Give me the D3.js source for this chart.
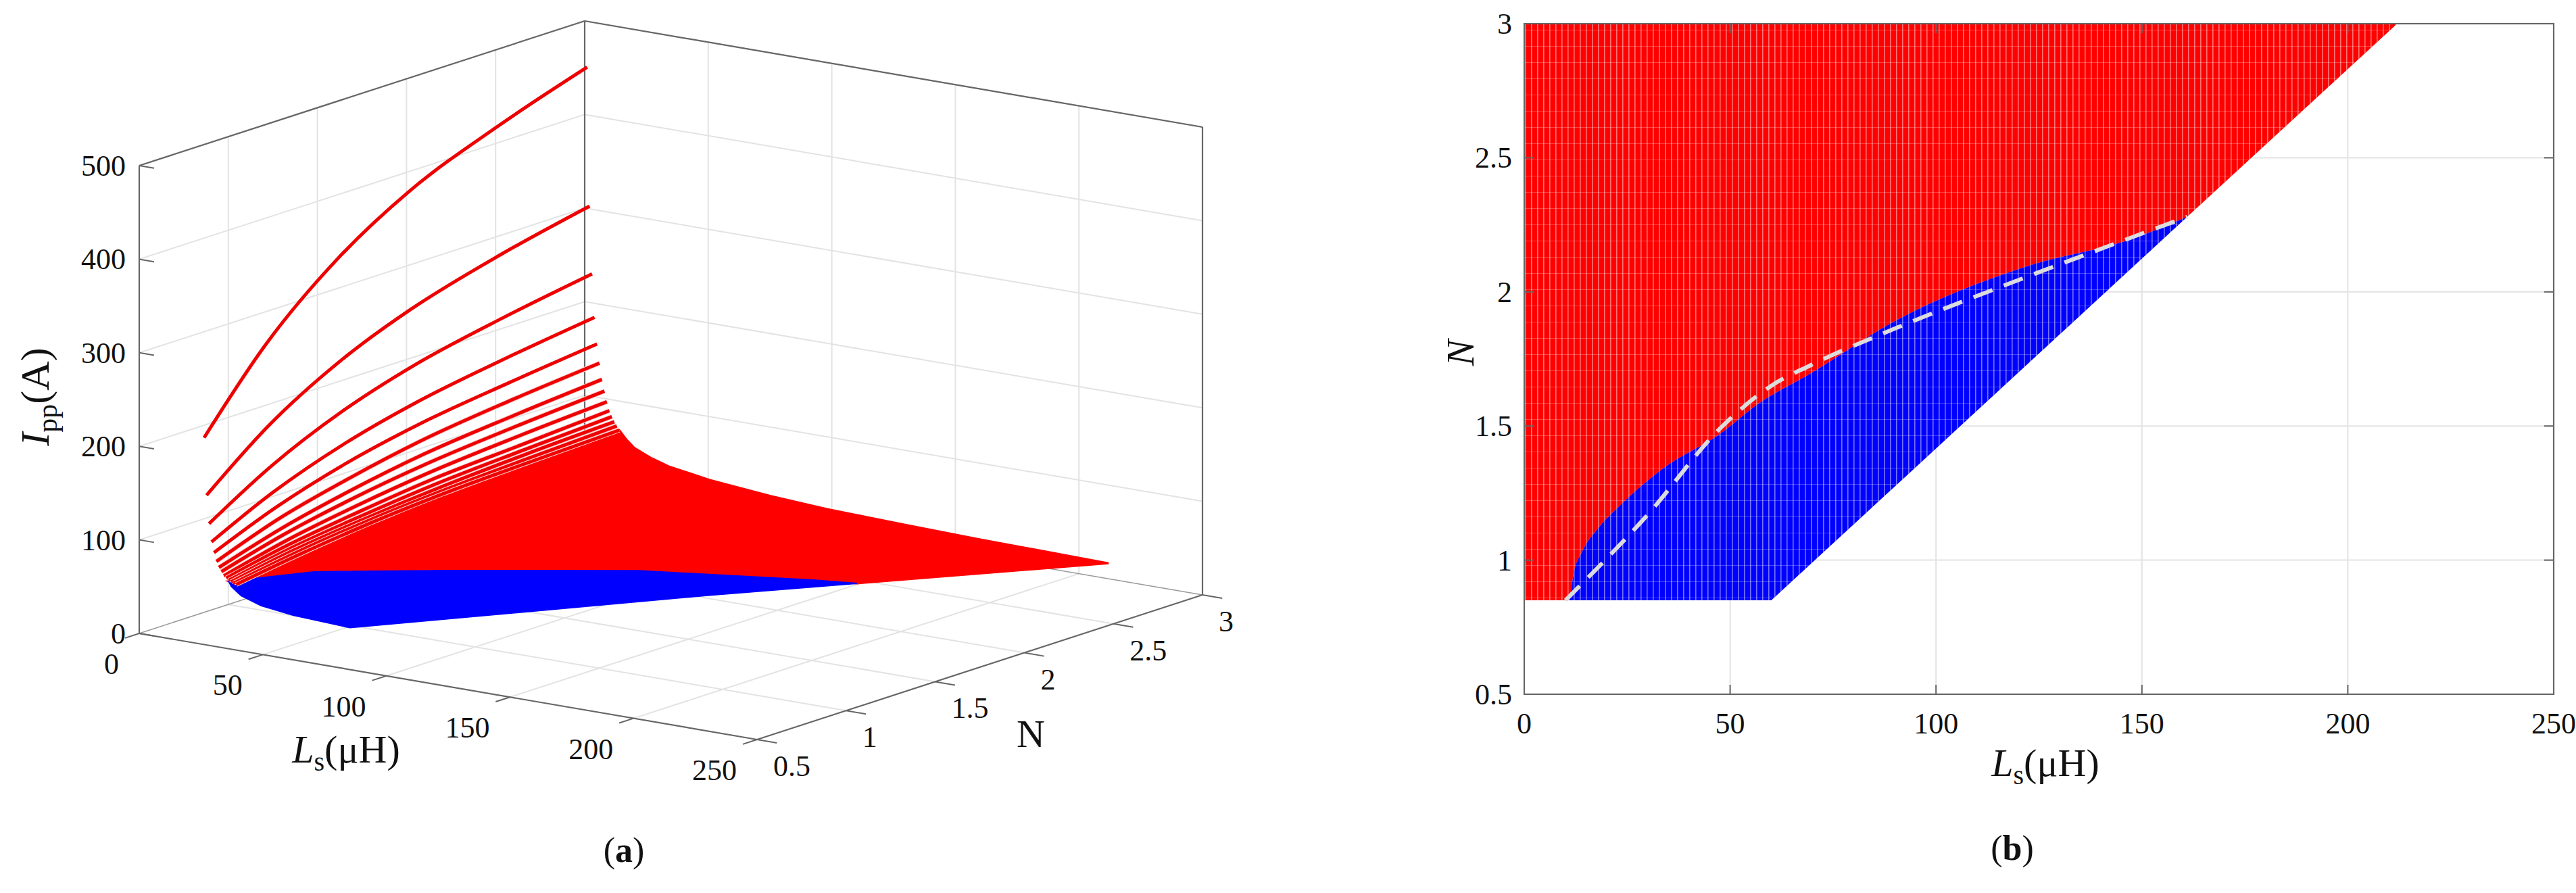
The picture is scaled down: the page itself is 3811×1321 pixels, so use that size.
<!DOCTYPE html>
<html><head><meta charset="utf-8">
<script src="https://cdn.jsdelivr.net/npm/d3@7"></script>
<style>body{margin:0;background:#fff}text{font-family:"Liberation Serif","DejaVu Serif",serif;fill:#111}</style>
</head><body><svg id="c" width="3811" height="1321"></svg>
<script>
// ---------- DATA ----------
const lsTicks=[0,50,100,150,200,250];
const nTicks3d=[0.5,1,1.5,2,2.5,3];
const iTicks=[0,100,200,300,400,500];
const nTicks2d=[0.5,1,1.5,2,2.5,3];
// red constant-Ls curves: Ls value and Ipp at lineN
const lineN=[0.85,1.2,1.6,2.0,2.5,3.0];
const lineLs=[1,2,3,4,5,6,7,8,9,10,11,12,13,14];
const lineI=[
 [188,267,333,380,419,451],
 [127,180,224,255,282,303],
 [97,137,171,195,215,231],
 [78,110,137,156,172,185],
 [67,94,117,133,146,157],
 [58,82,101,116,128,137],
 [52,72,89,102,112,120],
 [48,66,81,92,101,108],
 [44,60,73,83,91,97],
 [42,56,67,76,82,88],
 [40,53,63,71,77,82],
 [39,51,60,67,73,77],
 [38,49,58,64,69,73],
 [37,47,56,62,66,69]];
// back edge (N=3) of surface: [Ls, Ipp]
const backEdge=[[14,69],[17,60],[20,53],[27,45],[34,39.4],[50.6,32.4],[75,26.5],[98,22.8],[130,20.3],[159,18.6],[212,16.6]];
// red/blue boundary on surface: [Ls,N,Ipp]
const rbBoundary=[[11,0.85,39],[20,1.2,31.6],[30,1.35,27.5],[50,1.55,25],[100,1.92,24.5],[150,2.2,20],[161.6,2.287,16.3]];
// outer boundary of valid region (blue part): [Ls,N,Ipp]
const blueOuter=[[161.6,2.287,16.3],[132,1.87,16],[60,0.85,11.7],[37,0.85,14.7],[24,0.85,19],[16,0.85,26],[12,0.85,34],[11,0.85,39]];
// panel b
const bBoundary=[[60,0.85],[212,3]];
const bBlueTop=[[11,0.85],[12,0.95],[14,1.03],[18,1.12],[23,1.2],[34,1.345],[47.5,1.47],[56.6,1.58],[70,1.7],[89.5,1.887],[121,2.09],[149,2.205],[161,2.28]];
const bDashed=[[10,0.85],[30,1.17],[47.5,1.49],[60,1.65],[70,1.73],[89.5,1.86],[121,2.05],[140,2.16],[161,2.28]];
const bNmin=0.85, bNmax=3;

// ---------- PANEL A ----------
const svg=d3.select("#c");
const O=[206,937];
const pL=d3.scaleLinear([0,250],[0,1]), pN=d3.scaleLinear([0.5,3],[0,1]), pI=d3.scaleLinear([0,500],[0,1]);
const vL=[914,157], vN=[659,-214], vI=[0,-692];
function P(L,N,I){const a=pL(L),b=pN(N),c=pI(I);return [O[0]+a*vL[0]+b*vN[0]+c*vI[0], O[1]+a*vL[1]+b*vN[1]+c*vI[1]];}
const gA=svg.append("g");
function seg(g,p,q,st,w){g.append("line").attr("x1",p[0]).attr("y1",p[1]).attr("x2",q[0]).attr("y2",q[1]).attr("stroke",st).attr("stroke-width",w);}
const gc="#e3e3e3";
iTicks.slice(1).forEach(I=>{seg(gA,P(0,0.5,I),P(0,3,I),gc,2);seg(gA,P(0,3,I),P(250,3,I),gc,2);});
nTicks3d.slice(1,-1).forEach(N=>{seg(gA,P(0,N,0),P(0,N,500),gc,2);seg(gA,P(0,N,0),P(250,N,0),gc,2);});
lsTicks.slice(1,-1).forEach(L=>{seg(gA,P(L,3,0),P(L,3,500),gc,2);seg(gA,P(L,0.5,0),P(L,3,0),gc,2);});
seg(gA,P(0,0.5,0),P(0,3,0),"#999",1.5);seg(gA,P(0,3,0),P(250,3,0),"#999",1.5);
const bc="#666";
[[[0,.5,0],[0,.5,500]],[[0,.5,500],[0,3,500]],[[0,3,500],[250,3,500]],[[0,3,0],[0,3,500]],[[250,3,0],[250,3,500]],[[0,.5,0],[250,.5,0]],[[250,.5,0],[250,3,0]]]
 .forEach(([a,b])=>seg(gA,P(...a),P(...b),bc,2.2));
lsTicks.forEach(L=>{const p=P(L,0.5,0),q=P(L,0.42,0);seg(gA,p,q,bc,2);
 gA.append("text").attr("x",p[0]-30).attr("y",p[1]+60).attr("text-anchor","end").attr("font-size",44).text(L);});
nTicks3d.forEach(N=>{const p=P(250,N,0),q=P(258,N,0);seg(gA,p,q,bc,2);
 gA.append("text").attr("x",p[0]+24).attr("y",p[1]+54).attr("font-size",44).text(N);});
iTicks.forEach(I=>{const p=P(0,0.5,I),q=P(6,0.5,I);seg(gA,p,q,bc,2);
 gA.append("text").attr("x",p[0]-20).attr("y",p[1]+15).attr("text-anchor","end").attr("font-size",44).text(I);});
// surface
const line=d3.line();
const cl=d3.line().curve(d3.curveMonotoneX);
const last=lineLs.length-1;
const redPoly=[];
lineN.forEach((n,j)=>redPoly.push(P(lineLs[last],n,lineI[last][j])));
backEdge.slice(1).forEach(([L,I])=>redPoly.push(P(L,3,I)));
rbBoundary.slice().reverse().forEach(d=>redPoly.push(P(...d)));
gA.append("path").attr("d",line(redPoly)+"Z").attr("fill","#ff0000").attr("stroke","#ff0000").attr("stroke-width",3);
const bluePoly=rbBoundary.map(d=>P(...d)).concat(blueOuter.map(d=>P(...d)));
gA.append("path").attr("d",line(bluePoly)+"Z").attr("fill","#0000ff").attr("stroke","#0000ff").attr("stroke-width",2);
lineLs.forEach((L,k)=>{
 const d=cl(lineN.map((n,j)=>P(L,n,lineI[k][j])));
 if(k>=5) gA.append("path").attr("d",d).attr("fill","none").attr("stroke","#ffd0d0").attr("stroke-width",7);
 gA.append("path").attr("d",d).attr("fill","none").attr("stroke","#ee0000").attr("stroke-width",5);});
gA.append("text").attr("transform","translate(72,587) rotate(-90)").attr("text-anchor","middle").attr("font-size",60)
 .html('<tspan font-style="italic">I</tspan><tspan font-size="42" dy="12">pp</tspan><tspan dy="-12">(A)</tspan>');
gA.append("text").attr("x",512).attr("y",1128).attr("text-anchor","middle").attr("font-size",58)
 .html('<tspan font-style="italic">L</tspan><tspan font-size="40" dy="12">s</tspan><tspan dy="-12">(μH)</tspan>');
gA.append("text").attr("x",1525).attr("y",1105).attr("text-anchor","middle").attr("font-size",58).text("N");
gA.append("text").attr("x",923).attr("y",1275).attr("text-anchor","middle").attr("font-size",52).html('(<tspan font-weight="bold">a</tspan>)');

// ---------- PANEL B ----------
const x=d3.scaleLinear([0,250],[2255,3778]);
const y=d3.scaleLinear([0.5,3],[1027,35]);
const gB=svg.append("g");
const defs=svg.append("defs");
const pat=defs.append("pattern").attr("id","stripe").attr("patternUnits","userSpaceOnUse").attr("width",9).attr("height",24);
pat.append("rect").attr("x",6).attr("width",1.6).attr("height",24).attr("fill","#fff").attr("opacity",0.45);
pat.append("rect").attr("y",20).attr("width",9).attr("height",1).attr("fill","#fff").attr("opacity",0.25);
lsTicks.forEach(L=>seg(gB,[x(L),y(0.5)],[x(L),y(3)],gc,2));
nTicks2d.forEach(N=>seg(gB,[x(0),y(N)],[x(250),y(N)],gc,2));
const lb=d3.line().x(d=>x(d[0])).y(d=>y(d[1]));
const lbs=d3.line().x(d=>x(d[0])).y(d=>y(d[1])).curve(d3.curveMonotoneX);
const topPath=lbs(bBlueTop); // from low Ls to high
const revTop=lbs(bBlueTop.slice().reverse()).replace(/^M/,"L");
const redD=lb([[0,bNmin],[0,bNmax],bBoundary[1]])+revTop+"L"+x(bBlueTop[0][0])+","+y(bNmin)+"Z";
const blueD=topPath+"L"+x(bBoundary[0][0])+","+y(bBoundary[0][1])+"Z";
gB.append("path").attr("d",redD).attr("fill","#ff0000");
gB.append("path").attr("d",redD).attr("fill","url(#stripe)");
gB.append("path").attr("d",blueD).attr("fill","#0000ff");
gB.append("path").attr("d",blueD).attr("fill","url(#stripe)");
gB.append("path").attr("d",lbs(bDashed)).attr("fill","none").attr("stroke","#dcdcdc").attr("stroke-width",6).attr("stroke-dasharray","30,18");
gB.append("rect").attr("x",x(0)).attr("y",y(3)).attr("width",x(250)-x(0)).attr("height",y(0.5)-y(3)).attr("fill","none").attr("stroke",bc).attr("stroke-width",2.2);
lsTicks.forEach(L=>{seg(gB,[x(L),y(0.5)],[x(L),y(0.5)-14],bc,2);seg(gB,[x(L),y(3)],[x(L),y(3)+14],bc,2);
 gB.append("text").attr("x",x(L)).attr("y",y(0.5)+58).attr("text-anchor","middle").attr("font-size",44).text(L);});
nTicks2d.forEach(N=>{seg(gB,[x(0),y(N)],[x(0)+14,y(N)],bc,2);seg(gB,[x(250),y(N)],[x(250)-14,y(N)],bc,2);
 gB.append("text").attr("x",x(0)-18).attr("y",y(N)+15).attr("text-anchor","end").attr("font-size",44).text(N);});
gB.append("text").attr("transform","translate(2180,522) rotate(-90)").attr("text-anchor","middle").attr("font-size",58).attr("font-style","italic").text("N");
gB.append("text").attr("x",3026).attr("y",1148).attr("text-anchor","middle").attr("font-size",58)
 .html('<tspan font-style="italic">L</tspan><tspan font-size="40" dy="12">s</tspan><tspan dy="-12">(μH)</tspan>');
gB.append("text").attr("x",2977).attr("y",1272).attr("text-anchor","middle").attr("font-size",52).html('(<tspan font-weight="bold">b</tspan>)');
</script></body></html>
